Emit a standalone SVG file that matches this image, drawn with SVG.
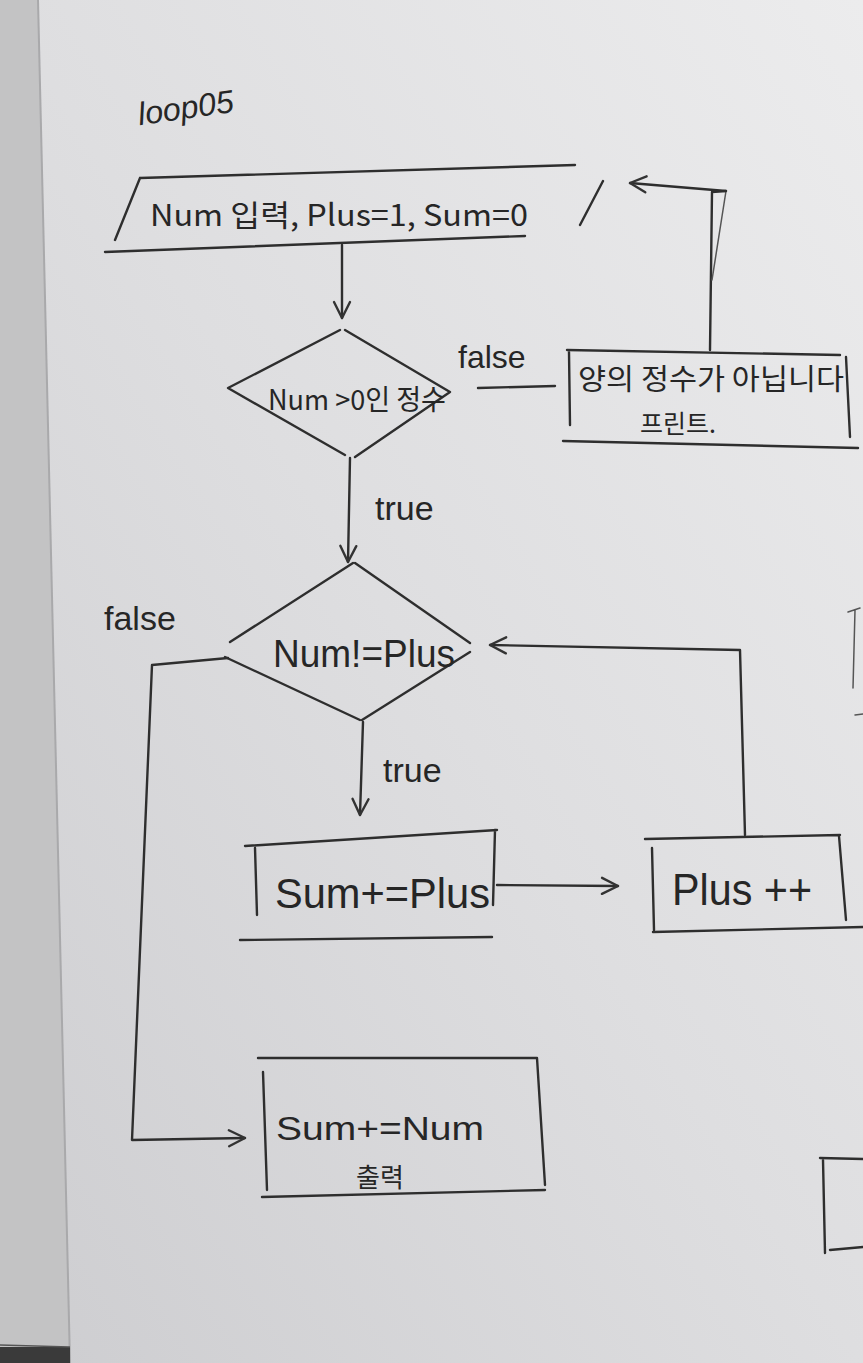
<svg xmlns="http://www.w3.org/2000/svg" width="863" height="1363" viewBox="0 0 863 1363">
<defs>
<linearGradient id="paper" x1="1" y1="0" x2="0" y2="1">
<stop offset="0" stop-color="#ececed"/>
<stop offset="0.5" stop-color="#dedee0"/>
<stop offset="1" stop-color="#cdcdd0"/>
</linearGradient>
<marker id="arr" viewBox="0 0 20 20" refX="18" refY="10" markerWidth="20" markerHeight="20" markerUnits="userSpaceOnUse" orient="auto">
<path d="M2,2 L18,10 L2,18" fill="none" stroke="#333" stroke-width="2.4" stroke-linecap="round" stroke-linejoin="round"/>
</marker>
<style>
.s{fill:none;stroke:#2e2e2e;stroke-width:2.4;stroke-linecap:round;stroke-linejoin:round}
.f{fill:none;stroke:#555;stroke-width:1.5;stroke-linecap:round}
.t{font-family:"Liberation Sans","Noto Sans CJK KR",sans-serif;fill:#262626}
.k{font-family:"Noto Sans CJK KR","Liberation Sans",sans-serif;fill:#262626}
</style>
</defs>
<rect width="863" height="1363" fill="url(#paper)"/>
<polygon points="0,0 38,0 70,1363 0,1363" fill="#c3c3c4"/>
<path d="M38,0 L70,1363" stroke="#a9a9ab" stroke-width="2"/>
<rect x="0" y="1347" width="70" height="16" fill="#3a3a3a"/>
<path d="M0,1345 L70,1347" stroke="#555" stroke-width="1.5"/>

<g id="title"><text class="t" x="138" y="118" font-size="32" font-style="italic" transform="rotate(-8 190 110)">loop05</text></g>

<g id="input">
<path class="s" d="M140,178 L575,165 M115,240 L140,178 M105,252 L525,236 M580,225 L603,181"/>
<text class="k" x="150" y="226" font-size="30" textLength="378" lengthAdjust="spacingAndGlyphs">Num 입력, Plus=1, Sum=0</text>
</g>

<g id="cond1">
<path class="s" d="M340,330 L228,388 L345,455 M345,330 L450,392 L355,457"/>
<text class="k" x="268" y="410" font-size="28" textLength="178" lengthAdjust="spacingAndGlyphs">Num &gt;0인 정수</text>
</g>

<g id="errbox">
<path class="s" d="M567,350 L840,355 M569,352 L570,425 M846,357 L850,437 M563,441 L858,448"/>
<text class="k" x="578" y="390" font-size="29" textLength="266" lengthAdjust="spacingAndGlyphs">양의 정수가 아닙니다</text>
<text class="k" x="640" y="433" font-size="25">프린트.</text>
</g>

<g id="cond2">
<path class="s" d="M353,563 L230,642 M225,657 L360,720 M355,563 L470,643 M470,652 L362,720"/>
<text class="t" x="273" y="667" font-size="38" textLength="182" lengthAdjust="spacingAndGlyphs">Num!=Plus</text>
</g>

<g id="sumplus">
<path class="s" d="M245,846 L497,830 M255,848 L257,915 M495,830 L493,905 M240,940 L492,937"/>
<text class="t" x="275" y="908" font-size="42" textLength="215" lengthAdjust="spacingAndGlyphs">Sum+=Plus</text>
</g>

<g id="plusinc">
<path class="s" d="M645,839 L840,835 M652,848 L654,930 M839,836 L846,920 M653,932 L863,927"/>
<text class="t" x="672" y="905" font-size="44" textLength="140" lengthAdjust="spacingAndGlyphs">Plus ++</text>
</g>

<g id="output">
<path class="s" d="M258,1058 L537,1058 M263,1072 L267,1190 M537,1058 L545,1185 M262,1197 L545,1190"/>
<text class="t" x="276" y="1140" font-size="34" textLength="208" lengthAdjust="spacingAndGlyphs">Sum+=Num</text>
<text class="k" x="356" y="1187" font-size="26">출력</text>
</g>

<g id="partial">
<path class="f" d="M855,610 L853,688 M848,612 L860,608 M855,715 L863,714"/>
<path class="s" d="M820,1158 L863,1159 M823,1160 L825,1253 M830,1250 L863,1247"/>
</g>

<g id="connectors">
<path class="s" d="M342,245 L342,318" marker-end="url(#arr)"/>
<path class="s" d="M555,386 L478,388"/>
<text class="t" x="458" y="368" font-size="32">false</text>
<path class="s" d="M710,350 L712,192 L726,191"/>
<path class="f" d="M726,191 L712,280"/>
<path class="s" d="M726,191 L630,183" marker-end="url(#arr)"/>
<path class="s" d="M350,458 L348,562" marker-end="url(#arr)"/>
<text class="t" x="375" y="520" font-size="34">true</text>
<text class="t" x="104" y="630" font-size="34">false</text>
<path class="s" d="M228,658 L152,665 L132,1140 L245,1138" marker-end="url(#arr)"/>
<path class="s" d="M363,722 L360,815" marker-end="url(#arr)"/>
<text class="t" x="383" y="782" font-size="34">true</text>
<path class="s" d="M497,885 L618,886" marker-end="url(#arr)"/>
<path class="s" d="M745,835 L740,650 L490,645" marker-end="url(#arr)"/>
</g>
</svg>
